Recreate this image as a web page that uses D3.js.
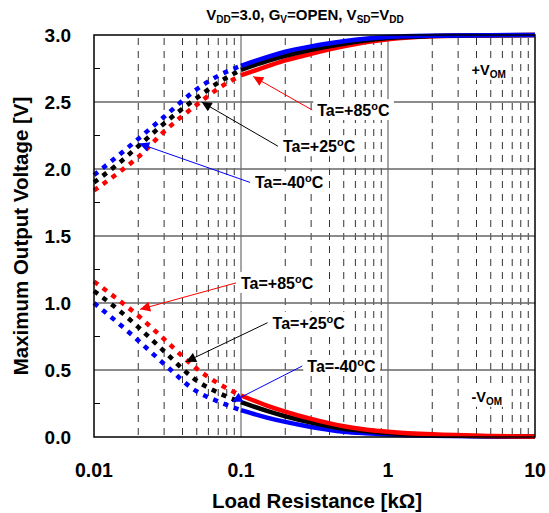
<!DOCTYPE html>
<html>
<head>
<meta charset="utf-8">
<script src="https://cdn.jsdelivr.net/npm/d3@7"></script>
<style>
  body { margin: 0; background: #fff; }
  text { font-family: "Liberation Sans", Arial, sans-serif; font-weight: bold; fill: #000; }
</style>
</head>
<body>
<svg id="chart" width="549" height="513"></svg>
<script>
// load resistance [kOhm]
var loadRes = [0.01, 0.015, 0.02, 0.03, 0.05, 0.07, 0.1, 0.15, 0.2, 0.3, 0.5, 0.7, 1, 2, 5, 10];

// +VOM [V]
var posM40 = [1.955, 2.11, 2.225, 2.39, 2.595, 2.696, 2.77, 2.835, 2.875, 2.915, 2.953, 2.972, 2.985, 2.995, 2.999, 3.0];
var posP25 = [1.90, 2.05, 2.17, 2.34, 2.53, 2.644, 2.74, 2.805, 2.845, 2.89, 2.935, 2.958, 2.977, 2.992, 2.998, 3.0];
var posP85 = [1.84, 1.98, 2.09, 2.28, 2.48, 2.60, 2.70, 2.765, 2.81, 2.86, 2.915, 2.945, 2.968, 2.99, 2.997, 3.0];

// -VOM [V]
var negM40 = [1.00, 0.84, 0.72, 0.545, 0.34, 0.265, 0.20, 0.145, 0.113, 0.075, 0.04, 0.028, 0.019, 0.009, 0.003, 0.001];
var negP25 = [1.09, 0.94, 0.82, 0.64, 0.42, 0.33, 0.26, 0.195, 0.155, 0.108, 0.062, 0.045, 0.03, 0.015, 0.006, 0.003];
var negP85 = [1.16, 1.015, 0.905, 0.73, 0.51, 0.40, 0.31, 0.235, 0.19, 0.135, 0.08, 0.056, 0.04, 0.02, 0.008, 0.004];

var xTicks = [0.01, 0.1, 1, 10];
var xTickLabels = ["0.01", "0.1", "1", "10"];
var yTicks = [0, 0.5, 1.0, 1.5, 2.0, 2.5, 3.0];
var yMinorTicks = [0.25, 0.75, 1.25, 1.75, 2.25, 2.75];

// label text position and arrow tip, in data units
var notes = [
  {temp: "+85", color: "#ff0000", tx: 0.33, ty: 2.44, ax: 0.121, ay: 2.69},
  {temp: "+25", color: "#000000", tx: 0.193, ty: 2.17, ax: 0.054, ay: 2.50},
  {temp: "-40", color: "#0000ff", tx: 0.1245, ty: 1.90, ax: 0.0203, ay: 2.19},
  {temp: "+85", color: "#ff0000", tx: 0.1, ty: 1.15, ax: 0.0206, ay: 0.953},
  {temp: "+25", color: "#000000", tx: 0.164, ty: 0.853, ax: 0.0423, ay: 0.562},
  {temp: "-40", color: "#0000ff", tx: 0.2825, ty: 0.53, ax: 0.0869, ay: 0.263}
];
var vomLabels = [
  {sign: "+", tx: 3.7, ty: 2.74},
  {sign: "-", tx: 3.7, ty: 0.30}
];

var svg = d3.select("#chart");
var mLeft = 94, mRight = 535, mTop = 35, mBottom = 437;

var x = d3.scaleLog().domain([0.01, 10]).range([mLeft, mRight]);
var y = d3.scaleLinear().domain([0, 3]).range([mBottom, mTop]);

// grid
var grid = svg.append("g");
var minors = [];
[0.01, 0.1, 1].forEach(function(dec) {
  for (var k = 2; k <= 9; k++) minors.push(dec * k);
});
grid.selectAll("line.vdash").data(minors).enter().append("line")
  .attr("x1", function(d) { return x(d); }).attr("x2", function(d) { return x(d); })
  .attr("y1", mTop + 3).attr("y2", mBottom)
  .attr("stroke", "#333").attr("stroke-width", 1).attr("stroke-dasharray", "7,6");

grid.selectAll("line.vsolid").data([0.1, 1]).enter().append("line")
  .attr("x1", function(d) { return x(d); }).attr("x2", function(d) { return x(d); })
  .attr("y1", mTop).attr("y2", mBottom)
  .attr("stroke", "#777").attr("stroke-width", 1.3);

grid.selectAll("line.hsolid").data(yTicks.slice(1, -1)).enter().append("line")
  .attr("x1", mLeft).attr("x2", mRight)
  .attr("y1", function(d) { return y(d); }).attr("y2", function(d) { return y(d); })
  .attr("stroke", "#666").attr("stroke-width", 1.3);

grid.selectAll("line.ytick").data(yMinorTicks).enter().append("line")
  .attr("x1", mLeft).attr("x2", mLeft + 6)
  .attr("y1", function(d) { return y(d); }).attr("y2", function(d) { return y(d); })
  .attr("stroke", "#000").attr("stroke-width", 1);

// axes labels
svg.append("g").selectAll("text").data(yTicks).enter().append("text")
  .attr("x", 71).attr("y", function(d) { return y(d) + 7; })
  .attr("text-anchor", "end").style("font-size", "19px")
  .text(function(d) { return d3.format(".1f")(d); });

svg.append("g").selectAll("text").data(xTicks).enter().append("text")
  .attr("x", function(d) { return x(d); }).attr("y", 477)
  .attr("text-anchor", "middle").style("font-size", "19.5px")
  .text(function(d, i) { return xTickLabels[i]; });

svg.append("text").attr("x", 317).attr("y", 508)
  .attr("text-anchor", "middle").style("font-size", "20.5px")
  .text("Load Resistance [k\u03A9]");

svg.append("text").attr("transform", "translate(28,236) rotate(-90)")
  .attr("text-anchor", "middle").style("font-size", "20.5px")
  .text("Maximum Output Voltage [V]");

// title with subscripts
var title = svg.append("text").attr("x", 305).attr("y", 20)
  .attr("text-anchor", "middle").style("font-size", "15px");
[["V", 0], ["DD", 1], ["=3.0, G", 0], ["V", 1], ["=OPEN, V", 0], ["SD", 1], ["=V", 0], ["DD", 1]]
  .forEach(function(p, i, arr) {
    var prevSub = i > 0 && arr[i - 1][1];
    title.append("tspan").text(p[0])
      .style("font-size", p[1] ? "10px" : "15px")
      .attr("dy", p[1] ? 3 : (prevSub ? -3 : 0));
  });

// curves
var line = d3.line()
  .x(function(d) { return x(d[0]); })
  .y(function(d) { return y(d[1]); })
  .curve(d3.curveMonotoneX);

var series = [
  {v: posP85, color: "#ff0000"}, {v: posP25, color: "#000000"}, {v: posM40, color: "#0000ff"},
  {v: negM40, color: "#0000ff"}, {v: negP25, color: "#000000"}, {v: negP85, color: "#ff0000"}
];
var curves = svg.append("g");
series.forEach(function(s) {
  var pts = loadRes.map(function(r, i) { return [r, s.v[i]]; });
  var low = pts.filter(function(p) { return p[0] <= 0.1; });
  var high = pts.filter(function(p) { return p[0] >= 0.1; });
  curves.append("path").attr("d", line(low))
    .attr("fill", "none").attr("stroke", s.color).attr("stroke-width", 4.5)
    .attr("stroke-dasharray", "5,6");
  curves.append("path").attr("d", line(high))
    .attr("fill", "none").attr("stroke", s.color).attr("stroke-width", 4.5);
});

// frame
svg.append("rect").attr("x", mLeft).attr("y", mTop)
  .attr("width", mRight - mLeft).attr("height", mBottom - mTop)
  .attr("fill", "none").attr("stroke", "#000").attr("stroke-width", 1.5);

// arrow heads
var defs = svg.append("defs");
["#ff0000", "#000000", "#0000ff"].forEach(function(c, i) {
  defs.append("marker").attr("id", "arr" + i)
    .attr("viewBox", "0 0 10 10").attr("refX", 10).attr("refY", 5)
    .attr("markerWidth", 13).attr("markerHeight", 10)
    .attr("markerUnits", "userSpaceOnUse").attr("orient", "auto")
    .append("path").attr("d", "M0,0L10,5L0,10z").attr("fill", c);
});
var markerOf = {"#ff0000": "arr0", "#000000": "arr1", "#0000ff": "arr2"};

// temperature labels
var ann = svg.append("g");
notes.forEach(function(n) {
  var tx = x(n.tx), cy = y(n.ty);
  var bg = ann.append("rect").attr("fill", "#fff");
  var t = ann.append("text").attr("x", tx).attr("y", cy + 6).style("font-size", "16px");
  t.append("tspan").text("Ta=" + n.temp);
  t.append("tspan").text("o").style("font-size", "11px").attr("dy", -6);
  t.append("tspan").text("C").attr("dy", 6);
  var bb = t.node().getBBox();
  bg.attr("x", bb.x - 4).attr("y", bb.y - 1).attr("width", bb.width + 8).attr("height", bb.height + 2);
  ann.append("line")
    .attr("x1", tx - 5).attr("y1", cy)
    .attr("x2", x(n.ax)).attr("y2", y(n.ay))
    .attr("stroke", n.color).attr("stroke-width", 1)
    .attr("marker-end", "url(#" + markerOf[n.color] + ")");
});

vomLabels.forEach(function(n) {
  var bg = ann.append("rect").attr("fill", "#fff");
  var t = ann.append("text").attr("x", x(n.tx)).attr("y", y(n.ty) + 5).style("font-size", "14.5px");
  t.append("tspan").text(n.sign + "V");
  t.append("tspan").text("OM").style("font-size", "10px").attr("dy", 3);
  var bb = t.node().getBBox();
  bg.attr("x", bb.x - 3).attr("y", bb.y).attr("width", bb.width + 6).attr("height", bb.height);
});
</script>
</body>
</html>
